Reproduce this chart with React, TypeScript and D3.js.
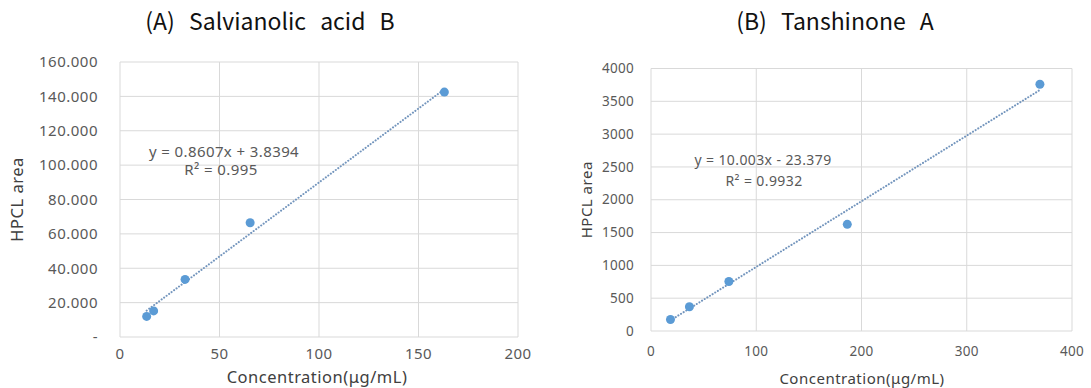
import { useRef, useEffect } from 'react'
import * as d3 from 'd3'

// (A) Salvianolic acid B
const concA = [13.4, 16.9, 32.7, 65.4, 163]
const areaA = [12, 15.2, 33.5, 66.5, 142.5]
const xTicksA = [0, 50, 100, 150, 200]
const yTicksA = [0, 20, 40, 60, 80, 100, 120, 140, 160]
const fitA = [0.8607, 3.8394]
const eqA = ['y = 0.8607x + 3.8394', 'R² = 0.995']

// (B) Tanshinone A
const concB = [18.5, 36.5, 74, 186.5, 369.5]
const areaB = [175, 370, 755, 1625, 3760]
const xTicksB = [0, 100, 200, 300, 400]
const yTicksB = [0, 500, 1000, 1500, 2000, 2500, 3000, 3500, 4000]
const fitB = [10.003, -23.379]
const eqB = ['y = 10.003x - 23.379', 'R² = 0.9932']

const FONT = '"Noto Sans", "Open Sans", sans-serif'
const TITLE_FONT = '"Noto Sans CJK KR", "Noto Sans", sans-serif'

const drawPanel = (svg, o) => {
  const g = svg.append('g')
  const x = d3.scaleLinear().domain([o.xTicks[0], o.xTicks[o.xTicks.length - 1]]).range([o.left, o.right])
  const y = d3.scaleLinear().domain([o.yTicks[0], o.yTicks[o.yTicks.length - 1]]).range([o.bottom, o.top])

  // grid
  g.selectAll('.hg').data(o.yTicks).enter().append('line')
    .attr('x1', o.left).attr('x2', o.right)
    .attr('y1', (d) => y(d)).attr('y2', (d) => y(d))
    .style('stroke', '#d9d9d9').style('stroke-width', 1)
  g.selectAll('.vg').data(o.xTicks).enter().append('line')
    .attr('y1', o.top).attr('y2', o.bottom)
    .attr('x1', (d) => x(d)).attr('x2', (d) => x(d))
    .style('stroke', '#d9d9d9').style('stroke-width', 1)

  // tick labels
  g.selectAll('.yl').data(o.yTicks).enter().append('text')
    .attr('x', o.left - o.yLabelGap).attr('y', (d) => y(d))
    .attr('dy', '0.35em').attr('text-anchor', 'end')
    .style('font-family', FONT).style('font-size', o.tickSize + 'px').style('fill', '#595959')
    .style('letter-spacing', o.tickSpacing + 'px')
    .text((d) => o.yFormat(d))
  g.selectAll('.xl').data(o.xTicks).enter().append('text')
    .attr('x', (d) => x(d)).attr('y', o.bottom + o.xLabelGap)
    .attr('dy', '0.35em').attr('text-anchor', 'middle')
    .style('font-family', FONT).style('font-size', o.tickSize + 'px').style('fill', '#595959')
    .style('letter-spacing', o.tickSpacing + 'px')
    .text((d) => d)

  // trendline
  const x0 = d3.min(o.xs)
  const x1 = d3.max(o.xs)
  g.append('line')
    .attr('x1', x(x0)).attr('y1', y(o.fit[0] * x0 + o.fit[1]))
    .attr('x2', x(x1)).attr('y2', y(o.fit[0] * x1 + o.fit[1]))
    .style('stroke', '#7395bd').style('stroke-width', 2)
    .style('stroke-dasharray', '0.1 3').style('stroke-linecap', 'round')

  // points
  g.selectAll('circle').data(o.xs.map((v, i) => [v, o.ys[i]])).enter().append('circle')
    .attr('cx', (d) => x(d[0])).attr('cy', (d) => y(d[1]))
    .attr('r', 4.5).style('fill', '#5b9bd5')

  // equation
  o.eq.forEach((t, i) => {
    g.append('text')
      .attr('x', o.eqPos[i][0]).attr('y', o.eqPos[i][1])
      .attr('dy', '0.35em').attr('text-anchor', 'middle')
      .style('font-family', FONT).style('font-size', o.eqSize + 'px').style('fill', '#595959')
      .style('letter-spacing', '0.4px')
      .text(t)
  })

  // axis titles
  g.append('text')
    .attr('transform', `translate(${o.yTitleX}, ${(o.top + o.bottom) / 2}) rotate(-90)`)
    .attr('dy', '0.35em').attr('text-anchor', 'middle')
    .style('font-family', FONT).style('font-size', o.titleSize + 'px').style('fill', '#404040')
    .style('letter-spacing', '0.5px')
    .text('HPCL area')
  g.append('text')
    .attr('x', o.xTitleX).attr('y', o.xTitleY)
    .attr('dy', '0.35em').attr('text-anchor', 'middle')
    .style('font-family', FONT).style('font-size', o.titleSize + 'px').style('fill', '#404040')
    .style('letter-spacing', '0.5px')
    .text('Concentration(μg/mL)')

  // panel heading
  g.append('text')
    .attr('x', o.headX).attr('y', 22)
    .attr('dy', '0.35em').attr('text-anchor', 'middle')
    .style('font-family', TITLE_FONT).style('font-size', '23px').style('fill', '#111')
    .style('word-spacing', '9px')
    .text(o.head)
}

const App = () => {
  const ref = useRef()

  useEffect(() => {
    const svg = d3.select(ref.current)
    svg.selectAll('*').remove()
    svg.append('rect').attr('width', 1091).attr('height', 388).style('fill', '#fff')

    drawPanel(svg, {
      xs: concA, ys: areaA, xTicks: xTicksA, yTicks: yTicksA, fit: fitA, eq: eqA,
      left: 120, right: 518, top: 62, bottom: 337,
      yFormat: (d) => (d === 0 ? '-' : d3.format('.3f')(d)),
      tickSize: 15, tickSpacing: 0.5, eqSize: 15, titleSize: 16.5, yLabelGap: 22, xLabelGap: 17,
      eqPos: [[224, 152], [221, 170]],
      yTitleX: 17, xTitleX: 317, xTitleY: 377,
      head: '(A) Salvianolic acid B', headX: 270
    })

    drawPanel(svg, {
      xs: concB, ys: areaB, xTicks: xTicksB, yTicks: yTicksB, fit: fitB, eq: eqB,
      left: 651, right: 1072, top: 68.5, bottom: 331,
      yFormat: (d) => d,
      tickSize: 13.5, tickSpacing: 0.3, eqSize: 14, titleSize: 15, yLabelGap: 17, xLabelGap: 20,
      eqPos: [[763, 160], [764, 181]],
      yTitleX: 587, xTitleX: 862, xTitleY: 379,
      head: '(B) Tanshinone A', headX: 835
    })
  }, [])

  return (
    <svg ref={ref} width={1091} height={388} style={{ position: 'absolute', left: 0, top: 0 }} />
  )
}

export default App
